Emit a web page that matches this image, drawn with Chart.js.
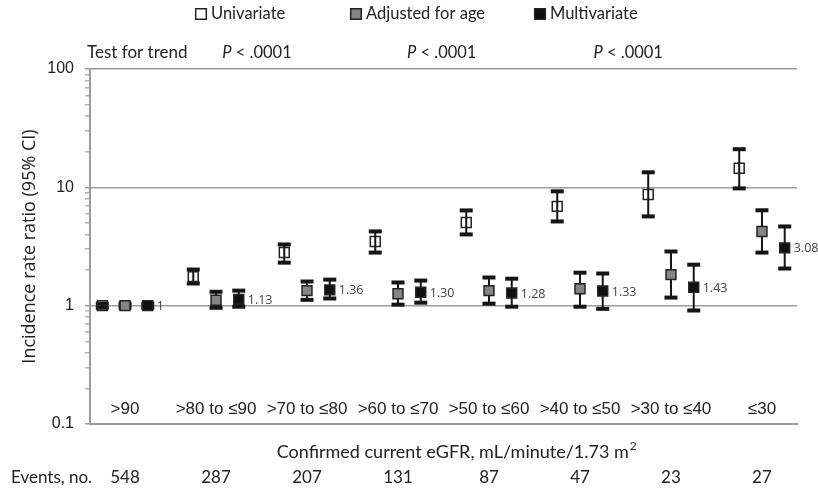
<!DOCTYPE html>
<html>
<head>
<meta charset="utf-8">
<script src="https://cdn.jsdelivr.net/npm/chart.js@4"></script>
<style>
  html, body { margin: 0; padding: 0; background: #fff; }
  #wrap { width: 818px; height: 493px; }
</style>
</head>
<body>
<div id="wrap"><canvas id="chart"></canvas></div>
<script>
const groups = [">90", ">80 to ≤90", ">70 to ≤80", ">60 to ≤70", ">50 to ≤60", ">40 to ≤50", ">30 to ≤40", "≤30"];
const events = [548, 287, 207, 131, 87, 47, 23, 27];

const univariate = [1, 1.76, 2.81, 3.49, 5.05, 6.9, 8.7, 14.5];
const univariateLow = [0.96, 1.54, 2.31, 2.81, 4.0, 5.15, 5.68, 9.8];
const univariateHigh = [1.04, 2.02, 3.29, 4.24, 6.38, 9.25, 13.4, 21];

const ageAdjusted = [1, 1.11, 1.34, 1.26, 1.34, 1.39, 1.83, 4.24];
const ageAdjustedLow = [0.96, 0.96, 1.12, 1.02, 1.04, 0.98, 1.17, 2.81];
const ageAdjustedHigh = [1.04, 1.31, 1.6, 1.57, 1.73, 1.9, 2.87, 6.4];

const multivariate = [1, 1.13, 1.36, 1.30, 1.28, 1.33, 1.43, 3.08];
const multivariateLow = [0.96, 0.98, 1.15, 1.06, 0.98, 0.94, 0.91, 2.06];
const multivariateHigh = [1.04, 1.34, 1.66, 1.63, 1.69, 1.87, 2.22, 4.67];

const trendTests = ["P < .0001", "P < .0001", "P < .0001"];
const yTicks = [0.1, 0.2, 0.3, 0.4, 0.5, 0.6, 0.7, 0.8, 0.9,
  1, 2, 3, 4, 5, 6, 7, 8, 9, 10, 20, 30, 40, 50, 60, 70, 80, 90, 100];
const yLabels = [0.1, 1, 10, 100];

const CAL = "Lato, 'Open Sans', sans-serif";
const SANS = "'Liberation Sans', Arial, sans-serif";
const GRID = "#9c9c9c";
const INK = "#151515";

function markers(values, off) {
  return values.map((v, i) => ({ x: i + 1 + off, y: v }));
}
function whiskers(lo, hi, off) {
  // low, high, then a gap so each CI is its own segment
  return lo.flatMap((l, i) => [
    { x: i + 1 + off, y: l },
    { x: i + 1 + off, y: hi[i] },
    { x: i + 1 + off, y: null },
  ]);
}
function whiskerSet(lo, hi, off) {
  return {
    data: whiskers(lo, hi, off),
    showLine: true,
    spanGaps: false,
    borderColor: INK,
    borderWidth: 2,
    pointStyle: "line",
    pointRadius: 6.5,
    pointBorderWidth: 4,
    pointBorderColor: INK,
    order: 2,
    isWhisker: true,
  };
}
function markerSet(label, values, off, fill) {
  return {
    label,
    data: markers(values, off),
    pointStyle: "rect",
    pointRadius: 7,
    borderWidth: 1.5,
    borderColor: "#222",
    backgroundColor: fill,
    order: 1,
  };
}

const annotations = {
  id: "annotations",
  afterDraw(chart) {
    const { ctx, chartArea, scales: { x } } = chart;
    ctx.save();
    ctx.textBaseline = "middle";

    // legend
    const legendX = [201, 356, 540];
    chart.data.datasets.filter(d => !d.isWhisker).forEach((ds, k) => {
      ctx.fillStyle = ds.backgroundColor;
      ctx.strokeStyle = ds.borderColor;
      ctx.lineWidth = 1.5;
      Chart.helpers.drawPoint(ctx, { pointStyle: "rect", radius: 7.5, borderWidth: 1.5, rotation: 0 }, legendX[k], 14);
      ctx.fillStyle = "#222";
      ctx.font = `16.5px ${CAL}`;
      ctx.textAlign = "left";
      ctx.fillText(ds.label, legendX[k] + 10, 14);
    });

    // test for trend row
    const trendY = chartArea.top - 16;
    ctx.fillStyle = "#222";
    ctx.font = `17px ${CAL}`;
    ctx.textAlign = "left";
    ctx.fillText("Test for trend", chartArea.left - 3, trendY);
    [2.45, 4.48, 6.53].forEach((pos, k) => {
      const cx = x.getPixelForValue(pos);
      ctx.font = `italic 16.5px ${CAL}`;
      const wP = ctx.measureText("P").width;
      ctx.font = `16.5px ${CAL}`;
      const rest = trendTests[k].slice(1);
      const wR = ctx.measureText(rest).width;
      const start = cx - (wP + wR) / 2;
      ctx.font = `italic 16.5px ${CAL}`;
      ctx.fillText("P", start, trendY);
      ctx.font = `16.5px ${CAL}`;
      ctx.fillText(rest, start + wP, trendY);
    });

    // value labels beside multivariate markers
    const meta = chart.getDatasetMeta(chart.data.datasets.length - 1);
    ctx.font = `12.5px 'Open Sans', sans-serif`;
    ctx.fillStyle = "#444";
    meta.data.forEach((pt, i) => {
      const v = multivariate[i];
      ctx.fillText(v === 1 ? "1" : v.toFixed(2), pt.x + 9, pt.y + 1);
    });

    // category labels inside plot
    ctx.font = `17px ${SANS}`;
    ctx.fillStyle = "#222";
    ctx.textAlign = "center";
    groups.forEach((g, i) => {
      ctx.fillText(g, x.getPixelForValue(i + 1), chartArea.bottom - 15);
    });

    // x axis title with superscript
    const titleY = chartArea.bottom + 28;
    const main = "Confirmed current eGFR, mL/minute/1.73 m";
    ctx.font = `18px ${CAL}`;
    const wMain = ctx.measureText(main).width;
    ctx.font = `12px ${CAL}`;
    const wSup = ctx.measureText("2").width;
    const tx = x.getPixelForValue(4.64) - (wMain + wSup) / 2;
    ctx.textAlign = "left";
    ctx.font = `18px ${CAL}`;
    ctx.fillText(main, tx, titleY);
    ctx.font = `12px ${CAL}`;
    ctx.fillText("2", tx + wMain + 1, titleY - 6);

    // events row
    const evY = chart.height - 15;
    ctx.font = `17px ${CAL}`;
    ctx.textAlign = "left";
    ctx.fillText("Events, no.", 11, evY);
    ctx.textAlign = "center";
    events.forEach((n, i) => {
      ctx.fillText(String(n), x.getPixelForValue(i + 1), evY);
    });
    ctx.restore();
  }
};

new Chart(document.getElementById("chart"), {
  type: "scatter",
  data: {
    datasets: [
      whiskerSet(univariateLow, univariateHigh, -0.25),
      whiskerSet(ageAdjustedLow, ageAdjustedHigh, 0),
      whiskerSet(multivariateLow, multivariateHigh, 0.25),
      markerSet("Univariate", univariate, -0.25, "rgba(255,255,255,0)"),
      markerSet("Adjusted for age", ageAdjusted, 0, "#858585"),
      markerSet("Multivariate", multivariate, 0.25, "#111"),
    ]
  },
  options: {
    responsive: true,
    maintainAspectRatio: false,
    animation: false,
    events: [],
    layout: { padding: { top: 69, right: 21, bottom: 69, left: 0 } },
    plugins: { legend: { display: false }, tooltip: { enabled: false } },
    scales: {
      x: {
        type: "linear",
        min: 0.615,
        max: 8.385,
        grid: { display: false, drawTicks: false },
        border: { color: GRID, width: 2 },
        ticks: { display: false },
      },
      y: {
        type: "logarithmic",
        min: 0.1,
        max: 100,
        afterBuildTicks: (scale) => {
          scale.ticks = yTicks.map(v => ({ value: v, major: yLabels.includes(v) }));
        },
        afterFit: (scale) => { scale.width = 90; },
        ticks: {
          autoSkip: false,
          padding: 11,
          color: "#222",
          font: { family: SANS, size: 16 },
          callback: (v) => yLabels.includes(v) ? String(v) : "",
        },
        grid: {
          color: (c) => yLabels.includes(c.tick && c.tick.value) ? GRID : "rgba(0,0,0,0)",
          tickColor: (c) => yLabels.includes(c.tick && c.tick.value) ? GRID : "#b5b5b5",
          lineWidth: 1.5,
          tickLength: 5,
        },
        border: { color: GRID, width: 2 },
        title: {
          display: true,
          text: "Incidence rate ratio (95% CI)",
          font: { family: "'Open Sans', sans-serif", size: 18 },
          color: "#222",
          padding: { top: 19, bottom: 0 },
        },
      },
    },
  },
  plugins: [annotations],
});
</script>
</body>
</html>
